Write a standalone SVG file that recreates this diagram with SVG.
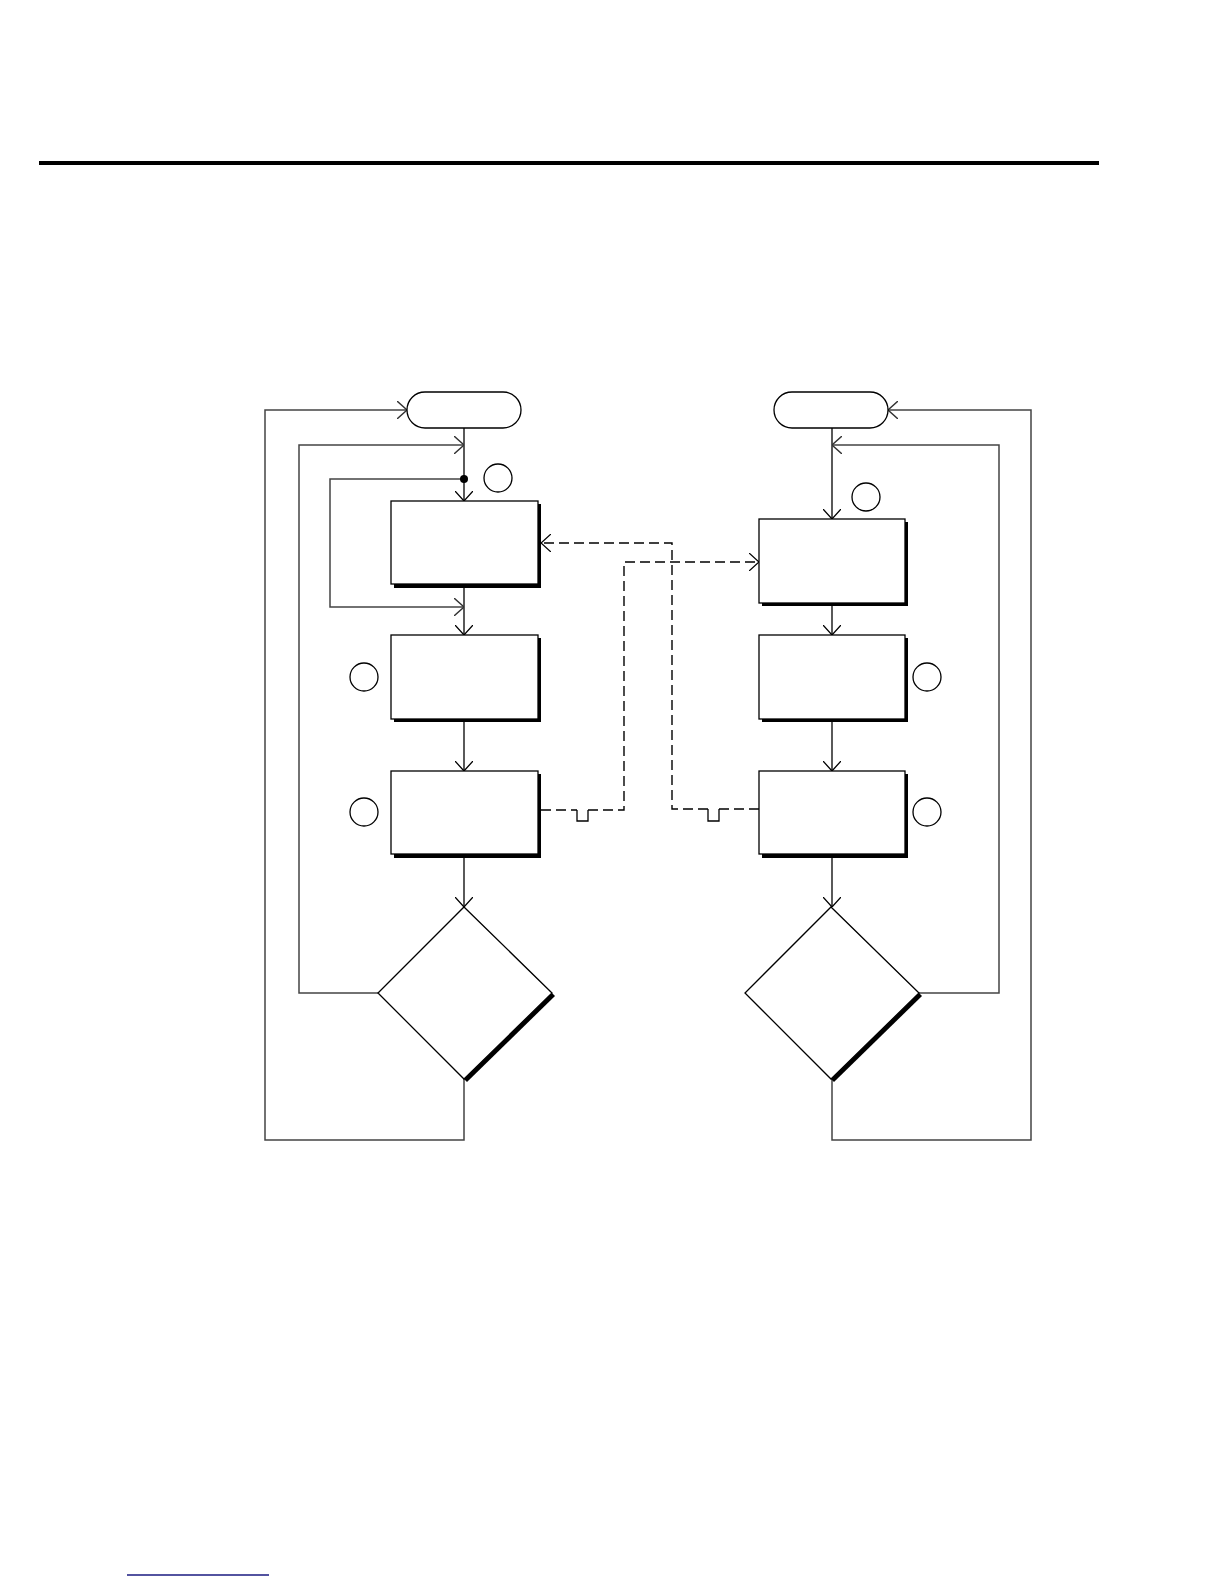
<svg xmlns="http://www.w3.org/2000/svg" width="1224" height="1584" viewBox="0 0 1224 1584">
<defs>
<marker id="arr" viewBox="0 0 10 18" refX="10" refY="9" markerWidth="10" markerHeight="18" markerUnits="userSpaceOnUse" orient="auto">
<path d="M0,0 L10,9 L0,18" fill="none" stroke="#000" stroke-width="1.3"/>
</marker>
<marker id="arrg" viewBox="0 0 10 18" refX="10" refY="9" markerWidth="10" markerHeight="18" markerUnits="userSpaceOnUse" orient="auto">
<path d="M0,0 L10,9 L0,18" fill="none" stroke="#333" stroke-width="1.4"/>
</marker>
</defs>
<style>
.box{fill:#fff;stroke:#000;stroke-width:1.3}
.shadow{fill:#000}
.term{fill:#fff;stroke:#000;stroke-width:1.3}
.circ{fill:#fff;stroke:#000;stroke-width:1.3}
.flow{fill:none;stroke:#000;stroke-width:1.3}
.loop{fill:none;stroke:#444;stroke-width:1.5}
.dash{fill:none;stroke:#000;stroke-width:1.4;stroke-dasharray:10,5}
.notch{fill:none;stroke:#000;stroke-width:1.3}
</style>
<rect x="39" y="161" width="1060" height="4" fill="#000"/>
<line x1="127" y1="1575" x2="269" y2="1575" stroke="#1a1a80" stroke-width="1.5"/>

<g id="connectors">
<!-- left main flow -->
<path class="flow" d="M464,428 L464,501" marker-end="url(#arr)"/>
<path class="flow" d="M464,584 L464,635" marker-end="url(#arr)"/>
<path class="flow" d="M464,719 L464,771" marker-end="url(#arr)"/>
<path class="flow" d="M464,854 L464,907" marker-end="url(#arr)"/>
<!-- left loops -->
<path class="loop" d="M464,479 L330,479 L330,607 L464,607" marker-end="url(#arrg)"/>
<path class="loop" d="M378,993 L299,993 L299,445 L464,445" marker-end="url(#arrg)"/>
<path class="loop" d="M464,1079 L464,1140 L265,1140 L265,410 L407,410" marker-end="url(#arrg)"/>
<circle cx="464" cy="479" r="4" fill="#000"/>
<!-- right main flow -->
<path class="flow" d="M832,428 L832,519" marker-end="url(#arr)"/>
<path class="flow" d="M832,603 L832,635" marker-end="url(#arr)"/>
<path class="flow" d="M832,719 L832,771" marker-end="url(#arr)"/>
<path class="flow" d="M832,854 L832,907" marker-end="url(#arr)"/>
<!-- right loops -->
<path class="loop" d="M919,993 L999,993 L999,445 L832,445" marker-end="url(#arrg)"/>
<path class="loop" d="M832,1079 L832,1140 L1031,1140 L1031,410 L888,410" marker-end="url(#arrg)"/>
<!-- dashed cross links -->
<path class="dash" d="M759,809 L719,809"/>
<path class="notch" d="M719,809 L719,821 L708,821 L708,809"/>
<path class="dash" d="M708,809 L672,809 L672,543 L541,543" marker-end="url(#arr)"/>
<path class="dash" d="M541,810 L577,810"/>
<path class="notch" d="M577,810 L577,821 L588,821 L588,810"/>
<path class="dash" d="M588,810 L624,810 L624,562 L759,562" marker-end="url(#arr)"/>
</g>

<g id="start-left">
<rect class="term" x="407" y="392" width="114" height="36" rx="18" ry="18"/>
</g>
<g id="start-right">
<rect class="term" x="774" y="392" width="114" height="36" rx="18" ry="18"/>
</g>

<g id="box-l1">
<rect class="shadow" x="394" y="504" width="147" height="84"/>
<rect class="box" x="391" y="501" width="147" height="83"/>
</g>
<g id="box-l2">
<rect class="shadow" x="394" y="638" width="147" height="84"/>
<rect class="box" x="391" y="635" width="147" height="84"/>
</g>
<g id="box-l3">
<rect class="shadow" x="394" y="774" width="147" height="84"/>
<rect class="box" x="391" y="771" width="147" height="83"/>
</g>
<g id="box-r1">
<rect class="shadow" x="762" y="522" width="146" height="84"/>
<rect class="box" x="759" y="519" width="146" height="84"/>
</g>
<g id="box-r2">
<rect class="shadow" x="762" y="638" width="146" height="84"/>
<rect class="box" x="759" y="635" width="146" height="84"/>
</g>
<g id="box-r3">
<rect class="shadow" x="762" y="774" width="146" height="84"/>
<rect class="box" x="759" y="771" width="146" height="83"/>
</g>

<g id="decision-left">
<polygon class="shadow" points="467,910 555,996 467,1082 381,996"/>
<polygon class="box" points="464,907 552,993 464,1079 378,993"/>
</g>
<g id="decision-right">
<polygon class="shadow" points="834,910 922,996 834,1082 748,996"/>
<polygon class="box" points="831,907 919,993 831,1079 745,993"/>
</g>

<g id="markers">
<circle class="circ" cx="498" cy="478" r="14"/>
<circle class="circ" cx="866" cy="497" r="14"/>
<circle class="circ" cx="364" cy="677" r="14"/>
<circle class="circ" cx="364" cy="812" r="14"/>
<circle class="circ" cx="927" cy="677" r="14"/>
<circle class="circ" cx="927" cy="812" r="14"/>
</g>
</svg>
